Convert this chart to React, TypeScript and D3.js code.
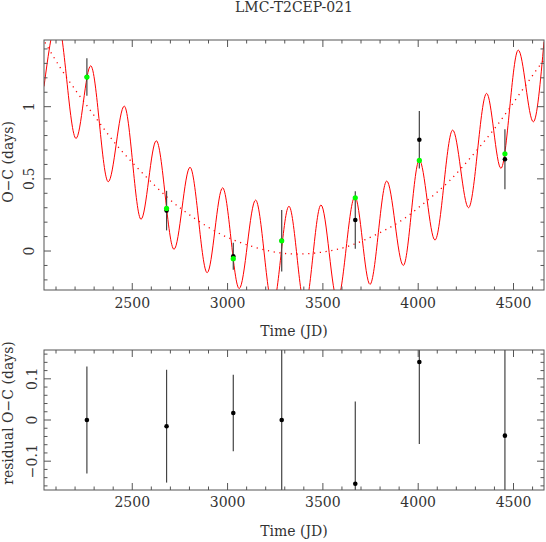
import * as d3 from "d3";

// observations (JD, O-C in days)
const obsTime = [2262, 2680, 3030, 3284, 3670, 4006, 4455];
const obsOC = [1.205, 0.28, -0.036, 0.071, 0.215, 0.771, 0.636];
const obsErr = [0.13, 0.137, 0.093, 0.213, 0.2, 0.199, 0.208];
// model value at the observed epochs (green)
const modelOC = [1.205, 0.295, -0.053, 0.071, 0.369, 0.628, 0.674];
// residuals shown in the lower panel
const residOC = [0, -0.015, 0.017, 0, -0.155, 0.141, -0.038];

// red model curve: edges + peaks/troughs
const curveTime = [
  2037, 2107, 2205, 2282, 2374, 2458, 2546, 2626, 2719, 2803, 2893, 2974, 3061,
  3147, 3237, 3322, 3406, 3490, 3576, 3668, 3747, 3835, 3922, 4006, 4088, 4181,
  4264, 4359, 4434, 4525, 4604, 4660,
];
const curveOC = [
  1.14, 1.6, 0.78, 1.283, 0.48, 1.004, 0.22, 0.764, 0.012, 0.58, -0.15, 0.438,
  -0.26, 0.353, -0.38, 0.31, -0.38, 0.319, -0.34, 0.376, -0.231, 0.485, -0.1,
  0.63, 0.076, 0.838, 0.3, 1.092, 0.573, 1.392, 0.895, 1.45,
];

// dotted quadratic trend
const trendTime = [
  2042, 2103, 2187, 2301, 2418, 2547, 2686, 2808, 2939, 3079, 3222, 3354, 3499,
  3642, 3791, 3922, 4045, 4163, 4294, 4415, 4530, 4639, 4660,
];
const trendOC = [
  1.445, 1.311, 1.143, 0.937, 0.734, 0.549, 0.369, 0.244, 0.134, 0.053, 0.0,
  -0.021, -0.007, 0.037, 0.122, 0.22, 0.348, 0.485, 0.677, 0.873, 1.085, 1.288,
  1.32,
];

const X_DOMAIN = [2037, 4660];
const TOP_Y_DOMAIN = [-0.27, 1.462];
const BOT_Y_DOMAIN = [-0.17, 0.17];
const xMajor = [2500, 3000, 3500, 4000, 4500];
const topYMajor = [0, 0.5, 1];
const botYMajor = [-0.1, 0, 0.1];

const FONT = "DejaVu Serif";
const INK = "#333";
const FRAME = "#555";

const LEFT = 44;
const RIGHT = 544;
const TOP_PANEL = { top: 40, bottom: 290 };
const BOT_PANEL = { top: 350, bottom: 490 };

const fmt = (v: number) => (v === 0 ? "0" : d3.format("")(+v.toFixed(2)));

type Scale = d3.ScaleLinear<number, number>;

const Ticks = ({
  x,
  y,
  top,
  bottom,
  xMinorStep,
  yMajor,
  yMinorStep,
}: {
  x: Scale;
  y: Scale;
  top: number;
  bottom: number;
  xMinorStep: number;
  yMajor: number[];
  yMinorStep: number;
}) => {
  const [x0, x1] = x.domain();
  const [y0, y1] = y.domain();
  const xMin = d3
    .range(Math.ceil(x0 / xMinorStep) * xMinorStep, x1, xMinorStep)
    .filter((t) => !xMajor.includes(t));
  const yMin = d3
    .range(Math.ceil(y0 / yMinorStep - 1e-6), Math.floor(y1 / yMinorStep + 1e-6) + 1)
    .map((k) => +(k * yMinorStep).toFixed(4))
    .filter((t) => !yMajor.some((m) => Math.abs(m - t) < 1e-6));
  const lines: JSX.Element[] = [];
  const add = (key: string, a: number[], len: number, vertical: boolean) =>
    a.forEach((t, i) => {
      if (vertical) {
        const px = x(t);
        lines.push(<line key={`${key}b${i}`} x1={px} x2={px} y1={bottom} y2={bottom - len} />);
        lines.push(<line key={`${key}t${i}`} x1={px} x2={px} y1={top} y2={top + len} />);
      } else {
        const py = y(t);
        lines.push(<line key={`${key}l${i}`} x1={LEFT} x2={LEFT + len} y1={py} y2={py} />);
        lines.push(<line key={`${key}r${i}`} x1={RIGHT} x2={RIGHT - len} y1={py} y2={py} />);
      }
    });
  add("xM", xMajor, 7, true);
  add("xm", xMin, 3.5, true);
  add("yM", yMajor, 7, false);
  add("ym", yMin, 3.5, false);
  return (
    <g stroke={FRAME} strokeWidth={1}>
      {lines}
      <rect x={LEFT} y={top} width={RIGHT - LEFT} height={bottom - top} fill="none" />
    </g>
  );
};

export default function App() {
  const x = d3.scaleLinear().domain(X_DOMAIN).range([LEFT, RIGHT]);
  const yTop = d3
    .scaleLinear()
    .domain(TOP_Y_DOMAIN)
    .range([TOP_PANEL.bottom, TOP_PANEL.top]);
  const yBot = d3
    .scaleLinear()
    .domain(BOT_Y_DOMAIN)
    .range([BOT_PANEL.bottom, BOT_PANEL.top]);

  const modelLine = d3
    .line<number>()
    .x((t) => x(t))
    .y((_, i) => yTop(curveOC[i]))
    .curve(d3.curveMonotoneX)(curveTime);

  const trendLine = d3
    .line<number>()
    .x((t) => x(t))
    .y((_, i) => yTop(trendOC[i]))
    .curve(d3.curveNatural)(trendTime);

  const midX = (LEFT + RIGHT) / 2;

  return (
    <svg
      width={546}
      height={542}
      style={{ position: "absolute", left: 0, top: 0, background: "#fff" }}
      fontFamily={FONT}
    >
      <defs>
        <clipPath id="clipTop">
          <rect x={LEFT} y={TOP_PANEL.top} width={RIGHT - LEFT} height={TOP_PANEL.bottom - TOP_PANEL.top} />
        </clipPath>
        <clipPath id="clipBot">
          <rect x={LEFT} y={BOT_PANEL.top} width={RIGHT - LEFT} height={BOT_PANEL.bottom - BOT_PANEL.top} />
        </clipPath>
      </defs>

      <text x={midX} y={12} textAnchor="middle" fontSize={14} fill={INK}>
        LMC-T2CEP-021
      </text>

      {/* upper panel */}
      <g clipPath="url(#clipTop)">
        <path d={trendLine ?? ""} fill="none" stroke="#ff0000" strokeWidth={1.3} strokeDasharray="1.2 4.6" />
        <path d={modelLine ?? ""} fill="none" stroke="#ff0000" strokeWidth={1} />
        {obsTime.map((t, i) => (
          <line
            key={`e${i}`}
            x1={x(t)}
            x2={x(t)}
            y1={yTop(obsOC[i] - obsErr[i])}
            y2={yTop(obsOC[i] + obsErr[i])}
            stroke="#444"
            strokeWidth={1.2}
          />
        ))}
        {obsTime.map((t, i) => (
          <circle key={`o${i}`} cx={x(t)} cy={yTop(obsOC[i])} r={2.3} fill="#000" />
        ))}
        {obsTime.map((t, i) => (
          <circle key={`m${i}`} cx={x(t)} cy={yTop(modelOC[i])} r={2.6} fill="#00ff00" />
        ))}
      </g>
      <Ticks
        x={x}
        y={yTop}
        top={TOP_PANEL.top}
        bottom={TOP_PANEL.bottom}
        xMinorStep={100}
        yMajor={topYMajor}
        yMinorStep={0.1}
      />
      {xMajor.map((t) => (
        <text key={`tx${t}`} x={x(t)} y={308} textAnchor="middle" fontSize={14} fill={INK}>
          {t}
        </text>
      ))}
      {topYMajor.map((v) => (
        <text
          key={`ty${v}`}
          transform={`translate(34,${yTop(v)}) rotate(-90)`}
          textAnchor="middle"
          fontSize={14}
          fill={INK}
        >
          {fmt(v)}
        </text>
      ))}
      <text x={midX} y={336} textAnchor="middle" fontSize={14} fill={INK}>
        Time (JD)
      </text>
      <text transform={`translate(13,162) rotate(-90)`} textAnchor="middle" fontSize={14} fill={INK}>
        O−C (days)
      </text>

      {/* lower panel: residuals */}
      <g clipPath="url(#clipBot)">
        {obsTime.map((t, i) => (
          <line
            key={`re${i}`}
            x1={x(t)}
            x2={x(t)}
            y1={yBot(residOC[i] - obsErr[i])}
            y2={yBot(residOC[i] + obsErr[i])}
            stroke="#444"
            strokeWidth={1.2}
          />
        ))}
        {obsTime.map((t, i) => (
          <circle key={`r${i}`} cx={x(t)} cy={yBot(residOC[i])} r={2.3} fill="#000" />
        ))}
      </g>
      <Ticks
        x={x}
        y={yBot}
        top={BOT_PANEL.top}
        bottom={BOT_PANEL.bottom}
        xMinorStep={100}
        yMajor={botYMajor}
        yMinorStep={0.02}
      />
      {xMajor.map((t) => (
        <text key={`bx${t}`} x={x(t)} y={507} textAnchor="middle" fontSize={14} fill={INK}>
          {t}
        </text>
      ))}
      {botYMajor.map((v) => (
        <text
          key={`by${v}`}
          transform={`translate(37,${yBot(v)}) rotate(-90)`}
          textAnchor="middle"
          fontSize={14}
          fill={INK}
        >
          {fmt(v)}
        </text>
      ))}
      <text x={midX} y={536} textAnchor="middle" fontSize={14} fill={INK}>
        Time (JD)
      </text>
      <text transform={`translate(13,413) rotate(-90)`} textAnchor="middle" fontSize={14} fill={INK}>
        residual O−C (days)
      </text>
    </svg>
  );
}
